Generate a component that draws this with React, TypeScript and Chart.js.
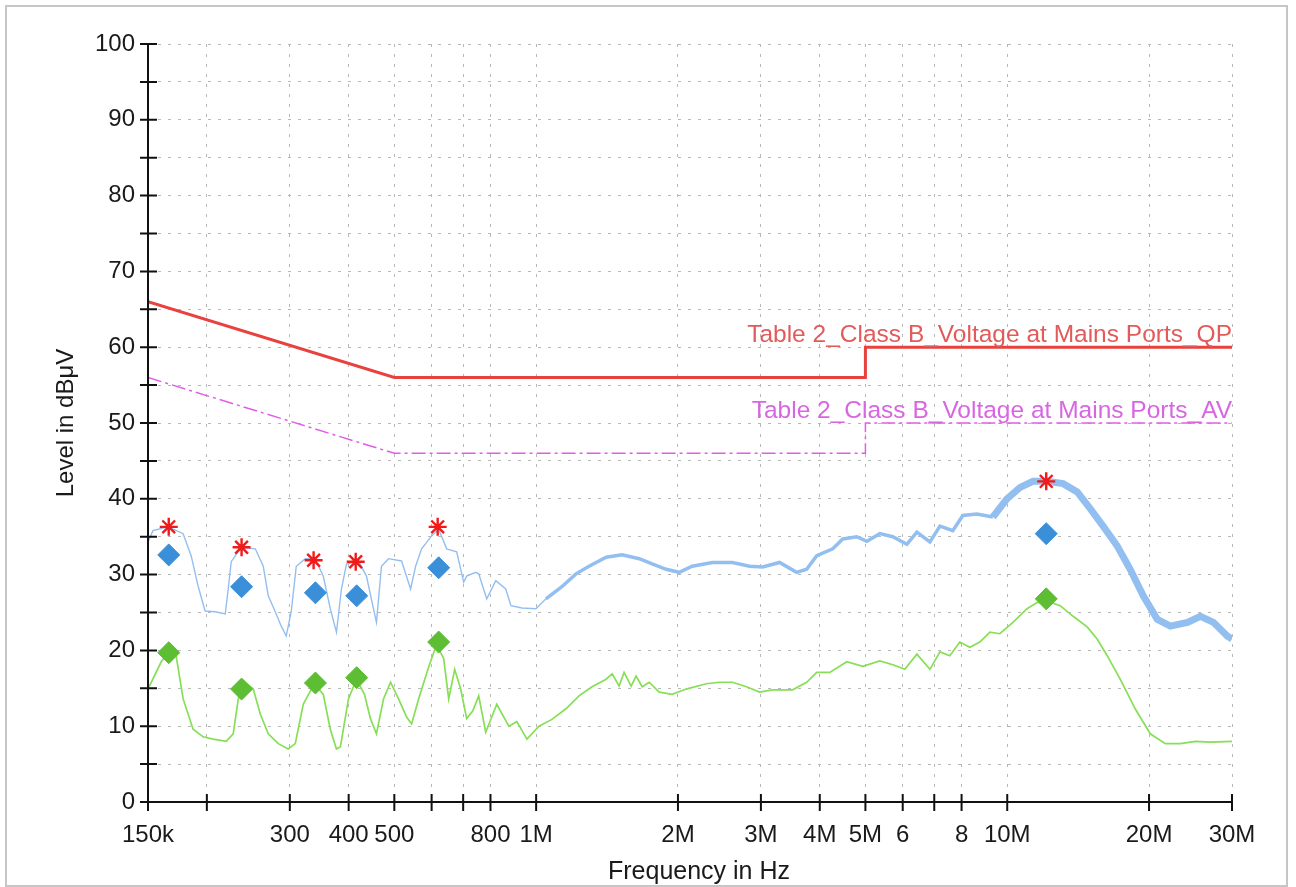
import React, { useEffect, useRef } from "react";
import { Chart, registerables } from "chart.js";

Chart.register(...registerables);

// ---- axis ticks ----
const xTickValues = [150e3, 200e3, 300e3, 400e3, 500e3, 600e3, 700e3, 800e3, 1e6, 2e6, 3e6, 4e6, 5e6, 6e6, 7e6, 8e6, 10e6, 20e6, 30e6];
const xTickLabels = ["150k", "", "300", "400", "500", "", "", "800", "1M", "2M", "3M", "4M", "5M", "6", "", "8", "10M", "20M", "30M"];

// ---- peak (QP detector preview) trace ----
const peakTraceFreq = [
  150000, 153700, 165500, 178100, 185200, 191600, 198300, 208300, 218800, 222000,
  225300, 236600, 253400, 263500, 270000, 279400, 287700, 294800, 302100, 309600,
  323500, 339700, 353300, 365600, 376800, 386100, 395700, 419600, 436300, 451500,
  458200, 469500, 486100, 518000, 541400, 554800, 571300, 600000, 621000, 645800,
  678200, 701800, 712200, 744300, 755300, 785500, 821000, 862000, 884000, 933000,
  999000, 1049000, 1134000, 1215000, 1295000, 1408000, 1522000, 1655000, 1763000, 1888000,
  2012000, 2144000, 2366000, 2610000, 2838000, 3024000, 3287000, 3572000, 3752000, 3941000,
  4262000, 4476000, 4793000, 5034000, 5365000, 5717000, 6122000, 6430000, 6853000, 7197000,
  7665000, 8049000, 8620000, 9323000, 9985000, 10650000, 11340000, 12150000, 13140000, 14080000,
  15000000, 15980000, 17110000, 18240000, 19440000, 20820000, 22190000, 24130000, 25710000, 27400000,
  29300000, 30000000,
];
const peakTraceLevel = [
  34.3, 35.8, 36.3, 35.4, 32.5, 28.5, 25.2, 25.1, 24.8, 28.1,
  31.7, 33.6, 33.4, 31.1, 27.2, 25.1, 23.2, 21.9, 25.1, 31.1,
  32.1, 32.1, 29.8, 25.5, 22.4, 28.1, 31.4, 31.8, 29.8, 25.5,
  23.7, 31.1, 32.1, 31.8, 28.1, 31.1, 33.4, 35.1, 36.0, 33.4,
  33.0, 29.0, 29.8, 30.3, 30.1, 26.8, 29.2, 28.1, 25.9, 25.6,
  25.5, 26.8, 28.4, 30.1, 31.1, 32.3, 32.6, 32.1, 31.4, 30.7,
  30.3, 31.1, 31.6, 31.6, 31.1, 31.0, 31.6, 30.3, 30.7, 32.5,
  33.4, 34.7, 35.0, 34.4, 35.4, 35.0, 34.0, 35.6, 34.3, 36.4,
  35.8, 37.8, 38.0, 37.6, 40.0, 41.5, 42.3, 42.3, 42.0, 40.9,
  38.7, 36.4, 33.8, 30.7, 27.2, 24.1, 23.2, 23.7, 24.5, 23.7,
  21.9, 21.5,
];

// ---- average detector trace ----
const avgTraceFreq = [
  150000, 160000, 166300, 172000, 178100, 187000, 196400, 206200, 219900, 227500,
  233200, 239000, 250900, 259700, 270000, 283500, 297700, 308100, 320400, 338100,
  353300, 365600, 376800, 384200, 399600, 415500, 432100, 444900, 458200, 474300,
  490900, 510500, 530900, 544000, 563000, 591300, 614900, 636400, 652200, 671600,
  691600, 712200, 733400, 755300, 781600, 825000, 875000, 910000, 956000, 1014000,
  1080000, 1157000, 1233000, 1314000, 1408000, 1450000, 1500000, 1537000, 1591000, 1630000,
  1679000, 1738000, 1825000, 1945000, 2082000, 2297000, 2449000, 2610000, 2796000, 2980000,
  3176000, 3503000, 3752000, 3941000, 4200000, 4565000, 4936000, 5365000, 5717000, 6063000,
  6430000, 6853000, 7197000, 7553000, 7932000, 8329000, 8748000, 9187000, 9648000, 10280000,
  11020000, 11570000, 12150000, 12950000, 13800000, 14780000, 15520000, 16300000, 17370000, 18690000,
  20120000, 21660000, 23310000, 25090000, 27000000, 30000000,
];
const avgTraceLevel = [
  14.9, 18.5, 19.8, 19.4, 13.6, 9.6, 8.6, 8.3, 8.0, 9.0,
  13.6, 16.0, 14.9, 11.6, 9.0, 7.7, 7.0, 7.7, 12.9, 15.6,
  14.2, 9.6, 7.0, 7.3, 13.6, 16.2, 14.2, 11.0, 9.0, 13.6,
  15.8, 13.6, 11.2, 10.3, 13.6, 17.8, 20.8, 18.9, 13.6, 17.5,
  14.9, 11.0, 12.0, 14.0, 9.2, 12.9, 10.0, 10.6, 8.3, 10.0,
  10.9, 12.3, 14.0, 15.2, 16.2, 16.9, 15.3, 17.1, 15.3, 16.6,
  15.2, 15.8, 14.5, 14.2, 14.9, 15.6, 15.8, 15.8, 15.2, 14.5,
  14.8, 14.8, 15.8, 17.1, 17.1, 18.5, 17.9, 18.6, 18.1, 17.5,
  19.5, 17.5, 19.8, 19.3, 21.1, 20.4, 21.1, 22.4, 22.2, 23.7,
  25.5, 26.3, 26.5, 25.9, 24.5, 23.1, 21.5, 19.3, 16.2, 12.3,
  9.0, 7.7, 7.7, 8.0, 7.9, 8.0,
];

// ---- limit lines ----
const limitFreq = [150e3, 500e3, 5e6, 5e6, 30e6];
const limitQPLevel = [66, 56, 56, 60, 60];
const limitAVLevel = [56, 46, 46, 50, 50];
const limitQPLabel = "Table 2_Class B_Voltage at Mains Ports_QP";
const limitAVLabel = "Table 2_Class B_Voltage at Mains Ports_AV";

// ---- final measurement markers ----
const peakMarkFreq = [166e3, 237e3, 337e3, 414e3, 618e3, 12.1e6];
const peakMarkLevel = [36.3, 33.6, 31.9, 31.7, 36.3, 42.3];
const finalFreq = [166e3, 237e3, 340e3, 416e3, 621e3, 12.1e6];
const finalQPLevel = [32.6, 28.4, 27.6, 27.2, 30.9, 35.4];
const finalAVLevel = [19.7, 14.9, 15.7, 16.4, 21.1, 26.8];

const yTitle = "Level in dBμV";
const xTitle = "Frequency in Hz";

const FONT = "'Liberation Sans', Arial, sans-serif";

const pts = (xs: number[], ys: number[]) => xs.map((x, i) => ({ x, y: ys[i] }));

const decorPlugin = {
  id: "decor",
  beforeDraw(chart: any) {
    const ctx = chart.ctx;
    ctx.save();
    ctx.fillStyle = "#ffffff";
    ctx.fillRect(0, 0, chart.width, chart.height);
    ctx.strokeStyle = "#c6c6c6";
    ctx.lineWidth = 2;
    ctx.strokeRect(6, 6, 1281, 880);
    ctx.restore();
  },
  afterDatasetsDraw(chart: any) {
    const ctx = chart.ctx;
    const xs = chart.scales.x;
    const ys = chart.scales.y;
    const { left, right, top, bottom } = chart.chartArea;
    ctx.save();
    ctx.strokeStyle = "#111111";
    ctx.lineWidth = 2;
    ctx.beginPath();
    ctx.moveTo(left, top);
    ctx.lineTo(left, bottom);
    ctx.moveTo(left, bottom);
    ctx.lineTo(right, bottom);
    for (let v = 0; v <= 100; v += 5) {
      const y = ys.getPixelForValue(v);
      ctx.moveTo(left - 8, y);
      ctx.lineTo(left + 9, y);
    }
    xTickValues.forEach((v) => {
      const x = xs.getPixelForValue(v);
      ctx.moveTo(x, bottom - 8);
      ctx.lineTo(x, bottom + 9);
    });
    ctx.stroke();

    // limit labels
    ctx.font = `24.5px ${FONT}`;
    ctx.textAlign = "right";
    ctx.textBaseline = "alphabetic";
    ctx.fillStyle = "#e35a5a";
    ctx.fillText(limitQPLabel, xs.getPixelForValue(30e6), ys.getPixelForValue(60) - 5);
    ctx.fillStyle = "#d866e2";
    ctx.fillText(limitAVLabel, xs.getPixelForValue(30e6), ys.getPixelForValue(50) - 5);

    // axis titles
    ctx.fillStyle = "#1a1a1a";
    ctx.font = `25px ${FONT}`;
    ctx.textAlign = "center";
    ctx.textBaseline = "middle";
    ctx.fillText(xTitle, 699, 872);
    ctx.font = `24px ${FONT}`;
    ctx.translate(66, (top + bottom) / 2);
    ctx.rotate(-Math.PI / 2);
    ctx.fillText(yTitle, 0, 0);
    ctx.restore();
  },
};

export default function App() {
  const ref = useRef<HTMLCanvasElement | null>(null);
  useEffect(() => {
    if (!ref.current) return;
    const chart = new Chart(ref.current, {
      type: "line",
      data: {
        datasets: [
          {
            label: "peaks",
            data: pts(peakMarkFreq, peakMarkLevel),
            showLine: false,
            pointStyle: "star",
            pointRadius: 9,
            borderColor: "#f01a1a",
            backgroundColor: "#f01a1a",
            pointBorderWidth: 2.4,
            order: 0,
          },
          {
            label: "final QP",
            data: pts(finalFreq, finalQPLevel),
            showLine: false,
            pointStyle: "rectRot",
            pointRadius: 11,
            borderColor: "#3b8fd9",
            backgroundColor: "#3b8fd9",
            pointBorderWidth: 1,
            order: 1,
          },
          {
            label: "final AV",
            data: pts(finalFreq, finalAVLevel),
            showLine: false,
            pointStyle: "rectRot",
            pointRadius: 11,
            borderColor: "#5dbd33",
            backgroundColor: "#5dbd33",
            pointBorderWidth: 1,
            order: 2,
          },
          {
            label: "peak trace",
            data: pts(peakTraceFreq, peakTraceLevel),
            borderColor: "#93bff0",
            borderWidth: 1.4,
            pointRadius: 0,
            tension: 0,
            segment: {
              borderWidth: (c: any) => (c.p0.parsed.x < 1e6 ? 1.4 : c.p0.parsed.x < 9e6 ? 3.5 : 7),
            },
            order: 3,
          },
          {
            label: "avg trace",
            data: pts(avgTraceFreq, avgTraceLevel),
            borderColor: "#86df55",
            borderWidth: 1.7,
            pointRadius: 0,
            tension: 0,
            order: 4,
          },
          {
            label: limitQPLabel,
            data: pts(limitFreq, limitQPLevel),
            borderColor: "#e8423e",
            borderWidth: 3,
            pointRadius: 0,
            order: 5,
          },
          {
            label: limitAVLabel,
            data: pts(limitFreq, limitAVLevel),
            borderColor: "#e05ee6",
            borderWidth: 1.5,
            borderDash: [14, 4, 3, 4],
            pointRadius: 0,
            order: 6,
          },
        ],
      },
      options: {
        responsive: false,
        animation: false,
        layout: { padding: { top: 44, right: 64, left: 0, bottom: 0 } },
        plugins: { legend: { display: false }, tooltip: { enabled: false } },
        scales: {
          x: {
            type: "logarithmic",
            min: 150e3,
            max: 30e6,
            afterBuildTicks: (s: any) => {
              s.ticks = xTickValues.map((v) => ({ value: v }));
            },
            afterFit: (s: any) => {
              s.height = 85;
            },
            ticks: {
              autoSkip: false,
              maxRotation: 0,
              padding: 19,
              color: "#1a1a1a",
              font: { family: FONT, size: 24 },
              callback: (v: any) => {
                const i = xTickValues.indexOf(Number(v));
                return i >= 0 ? xTickLabels[i] : "";
              },
            },
            grid: { color: "#b8b8b8", lineWidth: 1, drawTicks: false },
            border: { display: false, dash: [3, 7] },
          },
          y: {
            type: "linear",
            min: 0,
            max: 100,
            afterFit: (s: any) => {
              s.width = 148;
            },
            ticks: {
              stepSize: 5,
              padding: 13,
              color: "#1a1a1a",
              font: { family: FONT, size: 24 },
              callback: (v: any) => (Number(v) % 10 === 0 ? String(v) : ""),
            },
            grid: { color: "#b8b8b8", lineWidth: 1, drawTicks: false },
            border: { display: false, dash: [3, 7] },
          },
        },
      },
      plugins: [decorPlugin],
    });
    return () => chart.destroy();
  }, []);
  return (
    <div style={{ position: "absolute", left: 0, top: 0, width: 1296, height: 887, background: "#fff" }}>
      <canvas ref={ref} width={1296} height={887} />
    </div>
  );
}
